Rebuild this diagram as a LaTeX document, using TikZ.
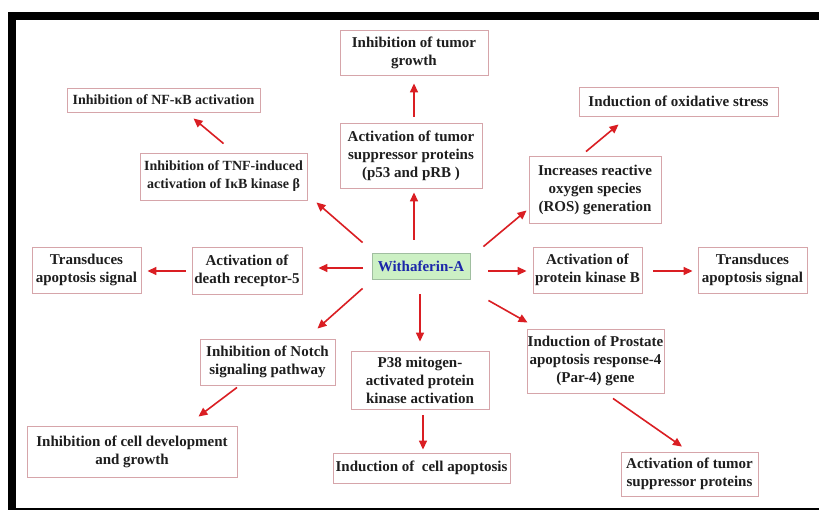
\documentclass[tikz,border=0pt]{standalone}
\usepackage{fontspec}
\setmainfont{Liberation Serif}
\usetikzlibrary{arrows.meta}
\definecolor{boxline}{RGB}{214,165,170}
\definecolor{arrred}{RGB}{218,30,35}
\definecolor{wfill}{RGB}{204,240,196}
\definecolor{wline}{RGB}{160,190,160}
\definecolor{wtext}{RGB}{28,38,170}
\definecolor{txt}{RGB}{30,30,30}
\begin{document}
\begin{tikzpicture}[x=1pt,y=-1pt,
  box/.style={draw=boxline, line width=0.9pt, fill=white, inner sep=0pt, align=center,
    text=txt, font=\bfseries\fontsize{15}{18}\selectfont},
  smallbox/.style={box, font=\bfseries\fontsize{14}{18}\selectfont},
  wbox/.style={draw=wline, line width=0.9pt, fill=wfill, inner sep=0pt, align=center,
    text=wtext, font=\bfseries\fontsize{15}{18}\selectfont},
  arr/.style={draw=arrred, line width=1.6pt, -{Triangle[length=9pt,width=8pt]}}]
\useasboundingbox (0,0) rectangle (819,510);
\fill[white] (0,0) rectangle (819,510);
% frame
\fill[black] (8,12) rectangle (819,20.3);
\fill[black] (8,12) rectangle (16,510);
\fill[black] (8,507.5) rectangle (819,510);
% nodes
\node[box, minimum width=148pt, minimum height=45pt] (growth) at (414,52.5) {Inhibition of tumor\\growth};
\node[box, minimum width=142pt, minimum height=65pt] (ats) at (411,155.5) {Activation of tumor\\suppressor proteins\\(p53 and pRB\ )};
\node[smallbox, minimum width=193pt, minimum height=24pt] (nfkb) at (163.5,100) {Inhibition of NF-κB activation};
\node[smallbox, minimum width=167pt, minimum height=47pt] (tnf) at (223.5,176.5) {Inhibition of TNF-induced\\activation of IκB kinase β};
\node[box, minimum width=199pt, minimum height=29pt] (oxid) at (678.5,101.5) {Induction of oxidative stress};
\node[box, minimum width=132pt, minimum height=67pt] (ros) at (595,189.5) {Increases reactive\\oxygen species\\(ROS) generation};
\node[box, minimum width=109pt, minimum height=46pt] (tdl) at (86.5,270) {Transduces\\apoptosis signal};
\node[box, minimum width=110pt, minimum height=47pt] (dr5) at (247,270.5) {Activation of\\death receptor-5};
\node[wbox, minimum width=98pt, minimum height=26pt] (W) at (421,266) {Withaferin-A};
\node[box, minimum width=109pt, minimum height=46pt] (pkb) at (587.5,270) {Activation of\\protein kinase B};
\node[box, minimum width=109pt, minimum height=46pt] (tdr) at (752.5,270) {Transduces\\apoptosis signal};
\node[box, minimum width=137pt, minimum height=64pt] (par4) at (595.5,361) {Induction of Prostate\\apoptosis response-4\\(Par-4) gene};
\node[box, minimum width=135pt, minimum height=46pt] (notch) at (267.5,362) {Inhibition of Notch\\signaling pathway};
\node[box, minimum width=138pt, minimum height=58pt] (p38) at (420,380) {P38 mitogen-\\activated protein\\kinase activation};
\node[box, minimum width=210pt, minimum height=51pt] (celldev) at (132,451.5) {Inhibition of cell development\\and growth};
\node[box, minimum width=177pt, minimum height=30pt] (apop) at (421.5,468) {Induction of~~cell apoptosis};
\node[box, minimum width=137pt, minimum height=44pt] (tsb) at (689.5,474) {Activation of tumor\\suppressor proteins};
% arrows
\draw[arr] ([shift={(-7,-13)}]W.north) -- ([shift={(3,4)}]ats.south);
\draw[arr] ([shift={(3,-6)}]ats.north) -- ([shift={(0,8)}]growth.south);
\draw[arr] ([shift={(-9,-10)}]W.north west) -- ([shift={(9,2)}]tnf.south east);
\draw[arr] ([shift={(0,-9)}]tnf.north) -- ([shift={(30,6)}]nfkb.south);
\draw[arr] ([shift={(13,-6)}]W.north east) -- ([shift={(-2,-13)}]ros.south west);
\draw[arr] ([shift={(-9,-4)}]ros.north) -- ([shift={(40,8)}]oxid.south west);
\draw[arr] ([shift={(-9,2)}]W.west) -- ([shift={(16,-2.5)}]dr5.east);
\draw[arr] ([shift={(-6,0.5)}]dr5.west) -- ([shift={(6,1)}]tdl.east);
\draw[arr] ([shift={(18,5)}]W.east) -- ([shift={(-6,1)}]pkb.west);
\draw[arr] ([shift={(11,1)}]pkb.east) -- ([shift={(-5,1)}]tdr.west);
\draw[arr] ([shift={(-9,9)}]W.south west) -- ([shift={(-18,-10)}]notch.north east);
\draw[arr] ([shift={(-30.5,2)}]notch.south) -- ([shift={(-39,-9)}]celldev.north east);
\draw[arr] ([shift={(-1,15)}]W.south) -- ([shift={(0,-9)}]p38.north);
\draw[arr] ([shift={(3,6)}]p38.south) -- ([shift={(1.5,-3)}]apop.north);
\draw[arr] ([shift={(18,21)}]W.south east) -- ([shift={(1,-6)}]par4.north west);
\draw[arr] ([shift={(17.5,5)}]par4.south) -- ([shift={(-7.5,-5)}]tsb.north);
\end{tikzpicture}
\end{document}
